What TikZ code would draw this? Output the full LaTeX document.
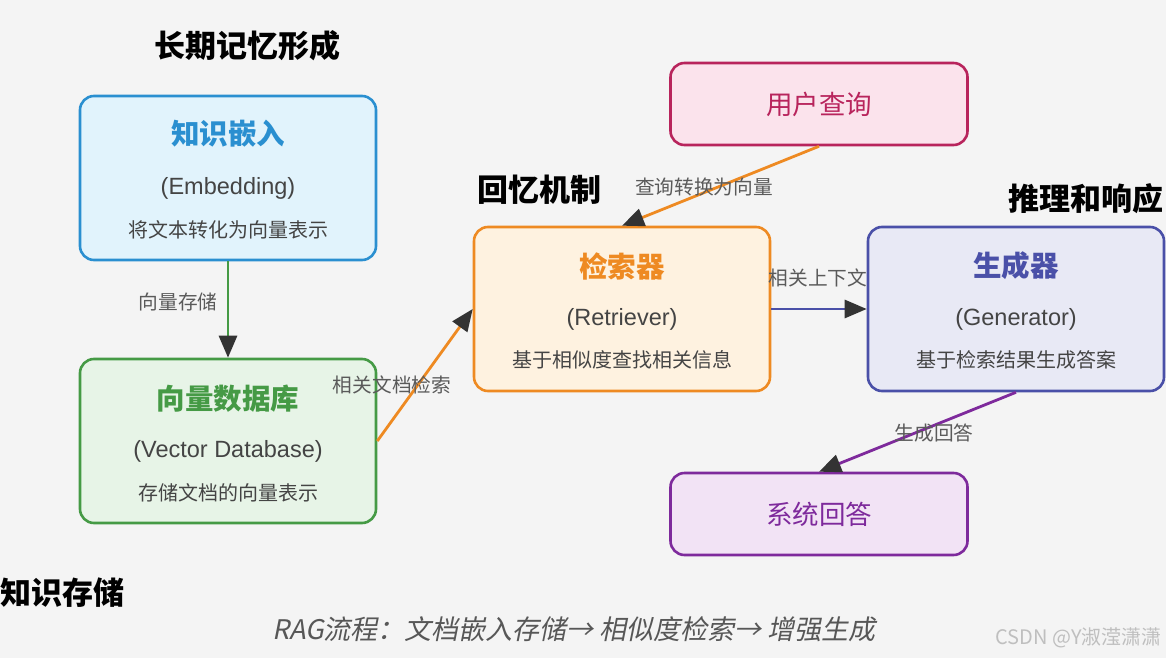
\documentclass[tikz,border=0pt]{standalone}
\usepackage{fontspec}
\setmainfont{Liberation Sans}
\newfontfamily\cjk{Noto Sans CJK SC}
\newfontfamily\cjkit[FakeSlant=0.2]{Noto Sans CJK SC}
\usetikzlibrary{arrows.meta}
\definecolor{bg}{HTML}{F4F4F4}
\definecolor{emb}{HTML}{2A8FD0}\definecolor{embf}{HTML}{E1F3FC}
\definecolor{vdb}{HTML}{459A45}\definecolor{vdbf}{HTML}{E7F4E7}
\definecolor{ret}{HTML}{EE8A22}\definecolor{retf}{HTML}{FEF2E0}
\definecolor{gen}{HTML}{4A50A8}\definecolor{genf}{HTML}{E8E9F5}
\definecolor{usq}{HTML}{B8245C}\definecolor{usqf}{HTML}{FBE3EC}
\definecolor{ans}{HTML}{7E2A9C}\definecolor{ansf}{HTML}{F2E3F5}
\definecolor{txt}{HTML}{444444}
\definecolor{lbl}{HTML}{5A5A5A}
\tikzset{
  box/.style={draw=#1, fill=#1f, line width=2.6pt, rounded corners=14pt, inner sep=0pt},
  bigbox/.style={box=#1, minimum width=296pt, minimum height=164pt},
  smallbox/.style={box=#1, minimum width=297pt, minimum height=82pt},
  ttl/.style={text=#1, font=\cjk\bfseries\fontsize{28.5}{30}\selectfont, inner sep=0pt},
  sub/.style={text=txt, font=\fontsize{23.5}{26}\selectfont, inner sep=0pt},
  desc/.style={text=txt, font=\cjk\fontsize{20}{22}\selectfont, inner sep=0pt},
  sect/.style={text=black, font=\cjk\bfseries\fontsize{31}{33}\selectfont, inner sep=0pt},
  lab/.style={text=lbl, font=\cjk\fontsize{19.7}{21}\selectfont, inner sep=0pt},
  conn/.style={draw=#1, line width=2.8pt, -{Triangle[length=22pt,width=18pt,color=black!80]}},
  big/.style={text=#1, font=\cjk\fontsize{26.5}{28}\selectfont, inner sep=0pt},
}
\begin{document}
\begin{tikzpicture}[x=1pt,y=-1pt]
\fill[bg] (0,0) rectangle (1166,658);
\useasboundingbox (0,0) rectangle (1166,658);
% section headings
\node[sect] (s1) at (247,46) {长期记忆形成};
\node[sect] (s2) at (539,190) {回忆机制};
\node[sect, anchor=east] (s3) at (1164,199) {推理和响应};
\node[sect, anchor=west] (s4) at (0,593) {知识存储};
% boxes
\node[bigbox=emb] (emb) at (228,178) {};
\node[ttl=emb] (embt) at (228,134) {知识嵌入};
\node[sub] (embs) at (228,188) {(Embedding)};
\node[desc] (embd) at (228,230) {将文本转化为向量表示};

\node[bigbox=vdb] (vdb) at (228,441) {};
\node[ttl=vdb] (vdbt) at (228,399) {向量数据库};
\node[sub] (vdbs) at (228,451) {(Vector Database)};
\node[desc] (vdbd) at (228,493) {存储文档的向量表示};

\node[bigbox=ret] (ret) at (622,309) {};
\node[ttl=ret] (rett) at (622,266) {检索器};
\node[sub] (rets) at (622,319) {(Retriever)};
\node[desc] (retd) at (622,360) {基于相似度查找相关信息};

\node[bigbox=gen] (gen) at (1016,309) {};
\node[ttl=gen] (gent) at (1016,266) {生成器};
\node[sub] (gens) at (1016,319) {(Generator)};
\node[desc] (gend) at (1016,360) {基于检索结果生成答案};

\node[smallbox=usq] (usq) at (819,104) {};
\node[big=usq] (usqt) at (819,104) {用户查询};

\node[smallbox=ans] (ans) at (819,514) {};
\node[big=ans] (anst) at (819,514) {系统回答};
% connectors
\draw[conn=vdb] (emb.south) -- (vdb.north);
\draw[conn=ret] (vdb.east) -- (ret.west);
\draw[conn=ret] (usq.south) -- (ret.north);
\draw[conn=gen] (ret.east) -- (gen.west);
\draw[conn=ans] (gen.south) -- (ans.north);
% connector labels
\node[lab] (l1) at (178,302) {向量存储};
\node[lab] (l2) at (392,385) {相关文档检索};
\node[lab] (l3) at (704,187) {查询转换为向量};
\node[lab] (l4) at (818,278) {相关上下文};
\node[lab] (l5) at (934,433) {生成回答};
% footer
\node[text=txt!90, font=\cjkit\fontsize{27}{29}\selectfont, inner sep=0pt] (foot) at (574,629) {RAG流程：文档嵌入存储→ 相似度检索→ 增强生成};
\node[text=black!25, font=\cjk\fontsize{20}{22}\selectfont, inner sep=0pt, anchor=east] (wm) at (1162,638) {CSDN @Y淑滢潇潇};
\end{tikzpicture}
\end{document}
